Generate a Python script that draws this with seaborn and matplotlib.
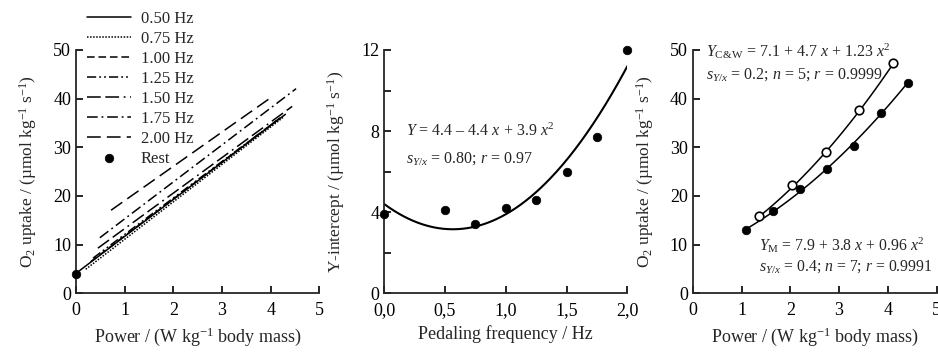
import numpy as np
import pandas as pd
import seaborn as sns
import matplotlib.pyplot as plt
from matplotlib.ticker import MultipleLocator, FuncFormatter

sns.set_style("ticks")
plt.rcParams['font.family'] = ['Liberation Serif', 'DejaVu Serif']
plt.rcParams['mathtext.fontset'] = 'custom'
plt.rcParams['mathtext.rm'] = 'Liberation Serif'
plt.rcParams['mathtext.it'] = 'Liberation Serif:italic'
plt.rcParams['font.size'] = 13

# panel A: regression lines per pedaling frequency
freq_labels = ["0.50 Hz", "0.75 Hz", "1.00 Hz", "1.25 Hz", "1.50 Hz", "1.75 Hz", "2.00 Hz"]
line_intercept = [4.1, 3.4, 4.2, 4.6, 6.0, 7.7, 12.0]
line_slope = [7.6, 7.7, 7.6, 7.5, 7.3, 7.6, 7.05]
line_xstart = [0.0, 0.2, 0.3, 0.35, 0.45, 0.49, 0.72]
line_xend = [4.3, 4.25, 4.2, 4.2, 4.44, 4.52, 3.97]
rest_power = [0.0]
rest_o2 = [3.9]

# panel B: y-intercepts vs pedaling frequency
freq = [0.0, 0.5, 0.75, 1.0, 1.25, 1.5, 1.75, 2.0]
intercept = [3.9, 4.1, 3.4, 4.2, 4.6, 6.0, 7.7, 12.0]
fitB = [4.4, -4.4, 3.9]

# panel C: O2 uptake vs power
cw_power = [1.36, 2.03, 2.73, 3.41, 4.10]
cw_o2 = [15.9, 22.3, 29.1, 37.7, 47.3]
m_power = [1.09, 1.65, 2.20, 2.75, 3.30, 3.86, 4.41]
m_o2 = [13.1, 17.0, 21.5, 25.6, 30.3, 37.1, 43.3]
fitCW = [7.1, 4.7, 1.23]
fitM = [7.9, 3.8, 0.96]

styles = ['-', (0, (1, 1)), (0, (5, 2.5)), (0, (6, 2, 1.2, 2, 1.2, 2)),
          (0, (9, 3, 9, 3, 1.2, 3)), (0, (7, 2.5, 1.2, 2.5)), (0, (9, 4))]

fig = plt.figure(figsize=(9.38, 3.54), dpi=100)
axA = fig.add_axes([0.081, 0.1714, 0.2596, 0.6874])
axB = fig.add_axes([0.4097, 0.1714, 0.2591, 0.6874])
axC = fig.add_axes([0.7385, 0.1714, 0.2601, 0.6874])

def poly(c, x):
    x = np.asarray(x)
    return c[0] + c[1] * x + c[2] * x ** 2

ylab_o2 = r"O$_2$ uptake / (µmol kg$^{-1}$ s$^{-1}$)"
xlab_pw = r"Power / (W kg$^{-1}$ body mass)"

# --- A
for i, lab in enumerate(freq_labels):
    xs = np.array([line_xstart[i], line_xend[i]])
    d = pd.DataFrame({"x": xs, "y": line_intercept[i] + line_slope[i] * xs})
    sns.lineplot(data=d, x="x", y="y", ax=axA, color="black", lw=1.1,
                 linestyle=styles[i], label=lab)
sns.scatterplot(x=rest_power, y=rest_o2, ax=axA, color="black", s=38,
                edgecolor="black", label="Rest", clip_on=False, zorder=5)
axA.set_xlim(0, 5)
axA.set_ylim(0, 50)
axA.xaxis.set_major_locator(MultipleLocator(1))
axA.yaxis.set_major_locator(MultipleLocator(10))
axA.set_xlabel(xlab_pw, labelpad=5)
axA.set_ylabel(ylab_o2, labelpad=10, fontsize=12.5)
axA.legend(loc="upper left", bbox_to_anchor=(0.093, 0.97), bbox_transform=fig.transFigure,
           frameon=False, fontsize=12, handlelength=2.6, handletextpad=0.6,
           labelspacing=0.24, borderpad=0, borderaxespad=0)

# --- B
xb = np.linspace(0, 2, 200)
sns.lineplot(x=xb, y=poly(fitB, xb), ax=axB, color="black", lw=1.5)
sns.scatterplot(x=freq, y=intercept, ax=axB, color="black", s=38,
                edgecolor="black", clip_on=False, zorder=5)
axB.set_xlim(0, 2)
axB.set_ylim(0, 12)
axB.xaxis.set_major_locator(MultipleLocator(0.5))
axB.xaxis.set_major_formatter(FuncFormatter(lambda v, p: f"{v:.1f}".replace(".", ",")))
axB.yaxis.set_major_locator(MultipleLocator(4))
axB.yaxis.set_minor_locator(MultipleLocator(2))
axB.set_xlabel("Pedaling frequency / Hz", labelpad=5)
axB.set_ylabel(r"Y-intercept / (µmol kg$^{-1}$ s$^{-1}$)", labelpad=10, fontsize=12.5)
axB.text(0.18, 8.0, r"$Y$ = 4.4 – 4.4 $x$ + 3.9 $x^2$", va="center", ha="left", fontsize=11.5)
axB.text(0.18, 6.65, r"$s_{Y/x}$ = 0.80; $r$ = 0.97", va="center", ha="left", fontsize=11.5)

# --- C
xc = np.linspace(min(cw_power), max(cw_power), 100)
sns.lineplot(x=xc, y=poly(fitCW, xc), ax=axC, color="black", lw=1.1)
xm = np.linspace(min(m_power), max(m_power), 100)
sns.lineplot(x=xm, y=poly(fitM, xm), ax=axC, color="black", lw=1.1)
sns.scatterplot(x=cw_power, y=cw_o2, ax=axC, color="white", s=38,
                edgecolor="black", linewidth=1.2, zorder=5)
sns.scatterplot(x=m_power, y=m_o2, ax=axC, color="black", s=38,
                edgecolor="black", zorder=5)
axC.set_xlim(0, 5)
axC.set_ylim(0, 50)
axC.xaxis.set_major_locator(MultipleLocator(1))
axC.yaxis.set_major_locator(MultipleLocator(10))
axC.set_xlabel(xlab_pw, labelpad=5)
axC.set_ylabel(ylab_o2, labelpad=10, fontsize=12.5)
axC.text(0.27, 49.8, r"$Y_{\mathrm{C&W}}$ = 7.1 + 4.7 $x$ + 1.23 $x^2$", va="center", ha="left", fontsize=11.5)
axC.text(0.27, 44.9, r"$s_{Y/x}$ = 0.2; $n$ = 5; $r$ = 0.9999", va="center", ha="left", fontsize=11.5)
axC.text(1.36, 9.9, r"$Y_{\mathrm{M}}$ = 7.9 + 3.8 $x$ + 0.96 $x^2$", va="center", ha="left", fontsize=11.3)
axC.text(1.36, 5.45, r"$s_{Y/x}$ = 0.4; $n$ = 7; $r$ = 0.9991", va="center", ha="left", fontsize=11.3)

for ax in (axA, axB, axC):
    sns.despine(ax=ax)
    ax.spines["left"].set_linewidth(1.3)
    ax.spines["bottom"].set_linewidth(1.3)
    ax.tick_params(which="both", direction="in", length=5, width=1.2, colors="black")
    ax.tick_params(axis="x", pad=6)
    ax.set_facecolor("white")

fig.savefig("out.png", dpi=100, facecolor="white")
